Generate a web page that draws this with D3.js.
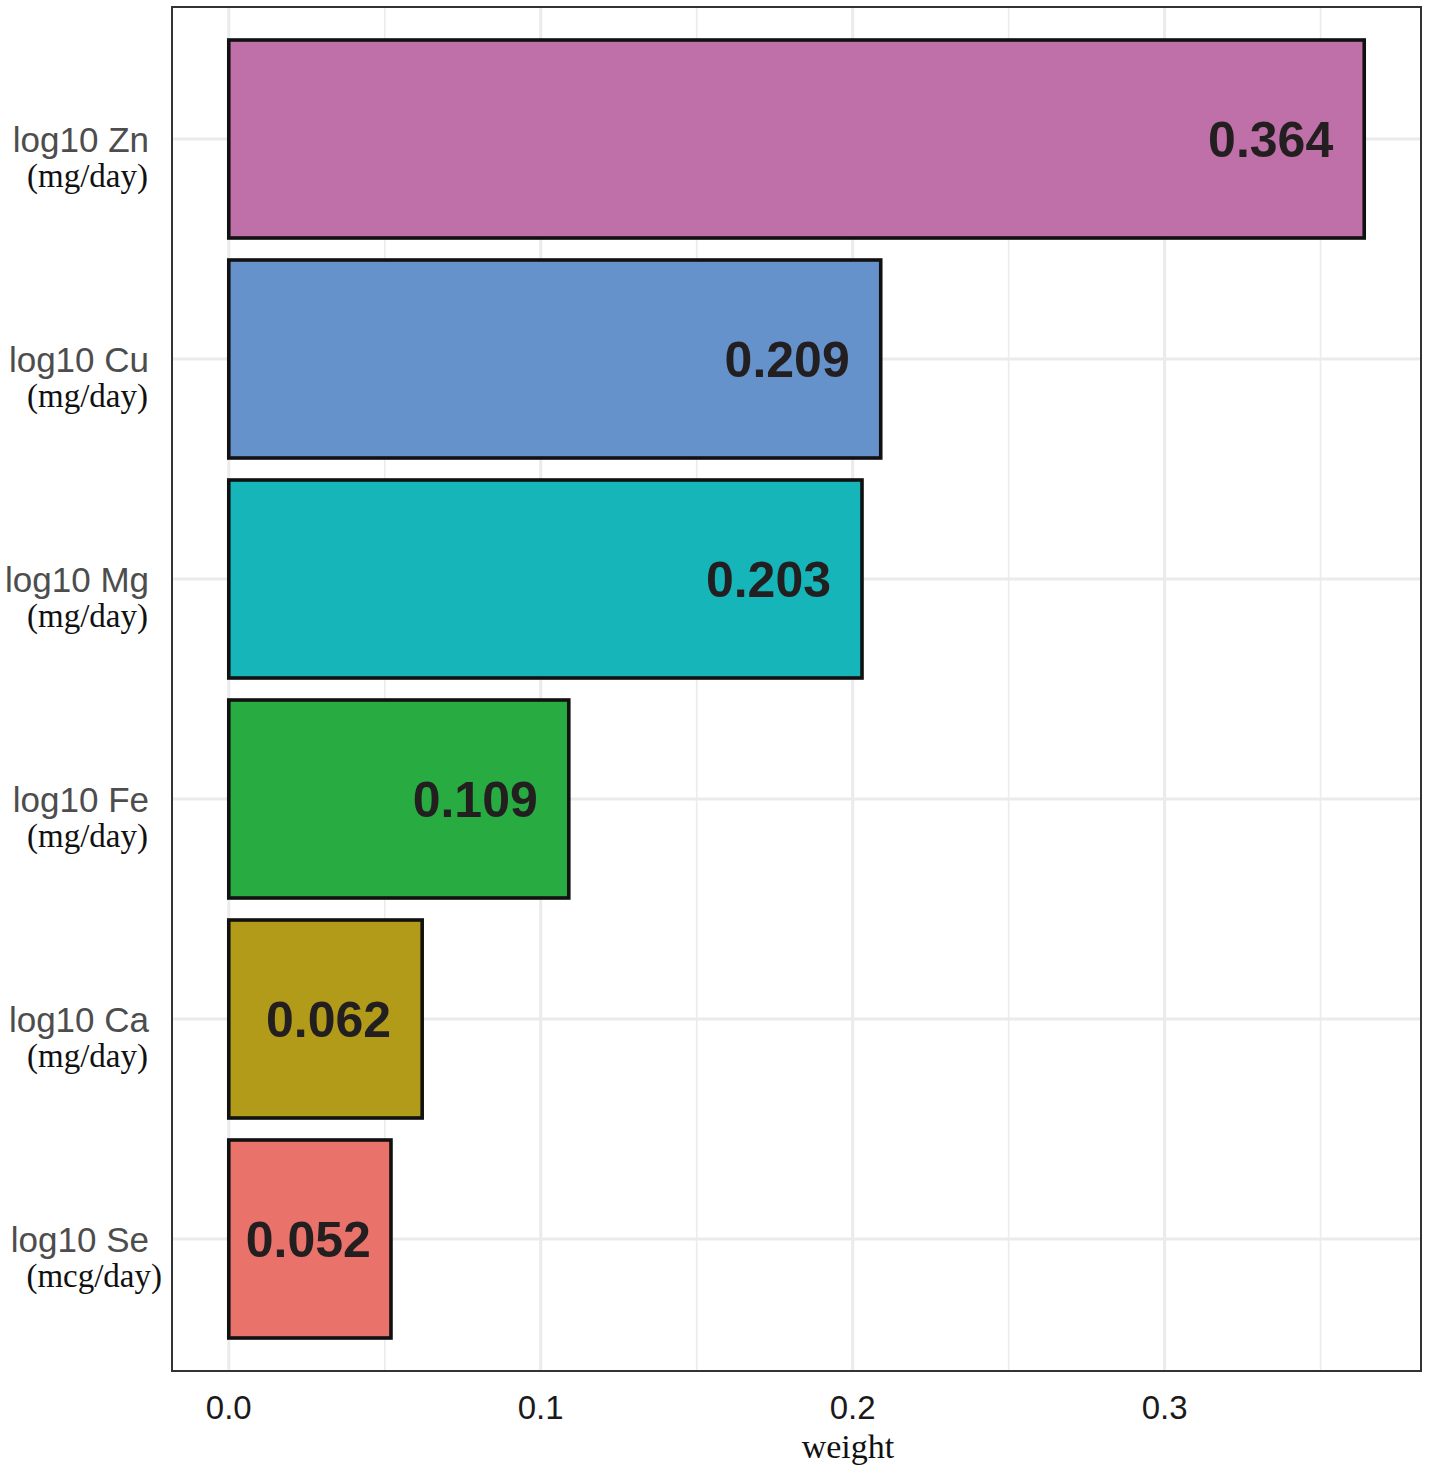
<!DOCTYPE html>
<html>
<head>
<meta charset="utf-8">
<script src="https://cdn.jsdelivr.net/npm/d3@7"></script>
<style>
  body { margin: 0; background: #fff; }
</style>
</head>
<body>
<div id="chart"></div>
<script>
// Weights of each nutrient
var elements = ["log10 Zn", "log10 Cu", "log10 Mg", "log10 Fe", "log10 Ca", "log10 Se"],
    units = ["(mg/day)", "(mg/day)", "(mg/day)", "(mg/day)", "(mg/day)", "(mcg/day)"],
    weights = [0.364, 0.209, 0.203, 0.109, 0.062, 0.052],
    colors = ["#c070a8", "#6692cc", "#16b5b9", "#28ab40", "#b39b1a", "#e9736a"],
    xTicks = [0, 0.1, 0.2, 0.3],
    xMinor = [0.05, 0.15, 0.25, 0.35];

var width = 1429,
    height = 1473,
    margin = { left: 172, right: 8, top: 7, bottom: 102 };

var svg = d3.select("#chart").append("svg")
  .attr("width", width)
  .attr("height", height);

var pw = width - margin.left - margin.right,
    ph = height - margin.top - margin.bottom;

var g = svg.append("g")
  .attr("transform", "translate(" + margin.left + "," + margin.top + ")");

// ggplot style expansion: 5% on the continuous axis
var xmax = d3.max(weights);
var x = d3.scaleLinear()
  .domain([-xmax * 0.05, xmax * 1.05])
  .range([0, pw]);

// 0.6 step on each side of the discrete axis
var n = elements.length;
var step = ph / (n - 1 + 1.2);
var y = function(i) { return step * 0.6 + i * step; };
var barH = step * 0.9;

// grid
g.selectAll(".minor").data(xMinor).enter().append("line")
  .attr("x1", d => x(d)).attr("x2", d => x(d))
  .attr("y1", 0).attr("y2", ph)
  .attr("stroke", "#ebebeb").attr("stroke-width", 1.6);

g.selectAll(".major").data(xTicks).enter().append("line")
  .attr("x1", d => x(d)).attr("x2", d => x(d))
  .attr("y1", 0).attr("y2", ph)
  .attr("stroke", "#ebebeb").attr("stroke-width", 3);

g.selectAll(".hgrid").data(elements).enter().append("line")
  .attr("x1", 0).attr("x2", pw)
  .attr("y1", (d, i) => y(i)).attr("y2", (d, i) => y(i))
  .attr("stroke", "#ebebeb").attr("stroke-width", 3);

// bars
g.selectAll(".bar").data(weights).enter().append("rect")
  .attr("x", x(0))
  .attr("y", (d, i) => y(i) - barH / 2)
  .attr("width", d => x(d) - x(0))
  .attr("height", barH)
  .attr("fill", (d, i) => colors[i])
  .attr("stroke", "#111")
  .attr("stroke-width", 3.6);

// value labels inside the bars
g.selectAll(".val").data(weights).enter().append("text")
  .attr("y", (d, i) => y(i))
  .attr("dy", "0.36em")
  .attr("text-anchor", "end")
  .style("font-family", "Liberation Sans, Arial, sans-serif")
  .style("font-weight", "bold")
  .style("font-size", "50px")
  .attr("fill", "#231f20")
  .text(d => d.toFixed(3))
  .attr("x", function(d) {
    var w = this.getComputedTextLength();
    return Math.max(x(d) - 31, x(0) + 17 + w);
  });

// panel border
g.append("rect")
  .attr("width", pw).attr("height", ph)
  .attr("fill", "none")
  .attr("stroke", "#333")
  .attr("stroke-width", 2);

// y labels
var ylab = svg.append("g");
ylab.selectAll(".el").data(elements).enter().append("text")
  .attr("x", 149)
  .attr("y", (d, i) => margin.top + y(i))
  .attr("dy", "0.36em")
  .attr("text-anchor", "end")
  .style("font-family", "Liberation Sans, Arial, sans-serif")
  .style("font-size", "35px")
  .attr("fill", "#4d4d4d")
  .text(d => d);

ylab.selectAll(".unit").data(units).enter().append("text")
  .attr("x", (d, i) => i == n - 1 ? 162 : 148)
  .attr("y", (d, i) => margin.top + y(i) + 48)
  .attr("text-anchor", "end")
  .style("font-family", "Liberation Serif, Times New Roman, serif")
  .style("font-size", "33px")
  .attr("fill", "#111")
  .text(d => d);

// x ticks
svg.selectAll(".xt").data(xTicks).enter().append("text")
  .attr("x", d => margin.left + x(d))
  .attr("y", 1419)
  .attr("text-anchor", "middle")
  .style("font-family", "Liberation Sans, Arial, sans-serif")
  .style("font-size", "33px")
  .attr("fill", "#1a1a1a")
  .text(d => d.toFixed(1));

// x title
svg.append("text")
  .attr("x", 848)
  .attr("y", 1458)
  .attr("text-anchor", "middle")
  .style("font-family", "Liberation Serif, Times New Roman, serif")
  .style("font-size", "34px")
  .attr("fill", "#111")
  .text("weight");
</script>
</body>
</html>
